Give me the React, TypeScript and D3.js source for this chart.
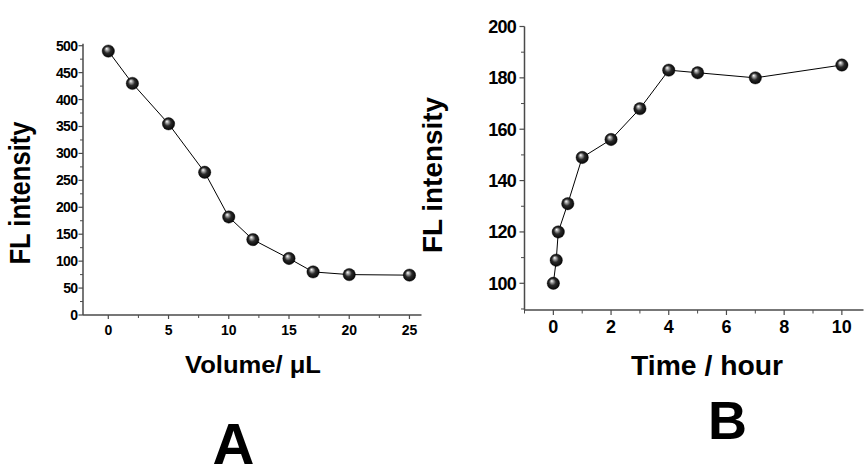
import { scaleLinear, line, range } from "d3";

const WIDTH = 865;
const HEIGHT = 468;
const FONT = "Arial, 'Liberation Sans', Helvetica, sans-serif";

// Panel A: fluorescence vs added volume
const volumeX = [0, 2, 5, 8, 10, 12, 15, 17, 20, 25];
const volumeFL = [490, 430, 355, 265, 182, 140, 105, 80, 75, 74];
const volumeXTicks = [0, 5, 10, 15, 20, 25];
const volumeYTicks = [0, 50, 100, 150, 200, 250, 300, 350, 400, 450, 500];

// Panel B: fluorescence vs time
const timeX = [0, 0.1, 0.17, 0.5, 1, 2, 3, 4, 5, 7, 10];
const timeFL = [100, 109, 120, 131, 149, 156, 168, 183, 182, 180, 185];
const timeXTicks = [0, 2, 4, 6, 8, 10];
const timeYTicks = [100, 120, 140, 160, 180, 200];

const AXIS = "#4a4a4a";

type Pt = [number, number];

function Sphere({ cx, cy }: { cx: number; cy: number }) {
  return <circle cx={cx} cy={cy} r={6.2} fill="url(#ball)" stroke="#000" strokeWidth={0.4} />;
}

export default function App() {
  // panel A scales
  const xA = scaleLinear().domain([-2.1, 26]).range([83, 421.5]);
  const yA = scaleLinear().domain([0, 500]).range([315, 45.7]);
  // panel B scales
  const xB = scaleLinear().domain([-1, 10.75]).range([524.5, 863.5]);
  const yB = scaleLinear().domain([89.6, 200]).range([310, 26.5]);

  const ptsA: Pt[] = volumeX.map((v, i) => [xA(v), yA(volumeFL[i])]);
  const ptsB: Pt[] = timeX.map((v, i) => [xB(v), yB(timeFL[i])]);
  const path = line<Pt>();

  const minorXA = range(2.5, 26, 5);
  const minorYA = range(25, 500, 50);
  const minorXB = range(-1, 11, 2);
  const minorYB = range(90, 200, 20);

  return (
    <svg
      width={WIDTH}
      height={HEIGHT}
      viewBox={`0 0 ${WIDTH} ${HEIGHT}`}
      style={{ position: "absolute", left: 0, top: 0, background: "#fff" }}
      fontFamily={FONT}
      fontWeight="bold"
    >
      <defs>
        <radialGradient id="ball" cx="0.5" cy="0.5" r="0.55" fx="0.36" fy="0.3">
          <stop offset="0" stopColor="#ffffff" />
          <stop offset="0.2" stopColor="#a8a8a8" />
          <stop offset="0.5" stopColor="#2a2a2a" />
          <stop offset="1" stopColor="#000" />
        </radialGradient>
      </defs>
      <rect width={WIDTH} height={HEIGHT} fill="#fff" />

      {/* ---------- Panel A ---------- */}
      <g>
        <line x1={xA.range()[0]} x2={xA.range()[1]} y1={yA(0)} y2={yA(0)} stroke={AXIS} strokeWidth={1.5} />
        <line x1={xA.range()[0]} x2={xA.range()[0]} y1={yA(0)} y2={yA(500) - 2} stroke={AXIS} strokeWidth={1.5} />
        {volumeXTicks.map((t) => (
          <g key={"xa" + t}>
            <line x1={xA(t)} x2={xA(t)} y1={yA(0)} y2={yA(0) + 4} stroke={AXIS} strokeWidth={1.2} />
            <text x={xA(t)} y={335} textAnchor="middle" fontSize={14}>{t}</text>
          </g>
        ))}
        {minorXA.map((t) => (
          <line key={"mxa" + t} x1={xA(t)} x2={xA(t)} y1={yA(0)} y2={yA(0) + 3} stroke={AXIS} strokeWidth={1} />
        ))}
        {volumeYTicks.map((t) => (
          <g key={"ya" + t}>
            <line x1={83} x2={78.5} y1={yA(t)} y2={yA(t)} stroke={AXIS} strokeWidth={1.2} />
            <text x={77.5} y={yA(t) + 5} textAnchor="end" fontSize={14} letterSpacing={-0.6}>{t}</text>
          </g>
        ))}
        {minorYA.map((t) => (
          <line key={"mya" + t} x1={83} x2={80} y1={yA(t)} y2={yA(t)} stroke={AXIS} strokeWidth={1} />
        ))}
        <path d={path(ptsA) ?? ""} fill="none" stroke="#000" strokeWidth={1} />
        {ptsA.map(([cx, cy], i) => (
          <Sphere key={"pa" + i} cx={cx} cy={cy} />
        ))}
        <text
          transform="translate(30,193) rotate(-90)"
          textAnchor="middle"
          fontSize={29}
          textLength={143}
          lengthAdjust="spacingAndGlyphs"
        >
          FL intensity
        </text>
        <text x={253} y={373} textAnchor="middle" fontSize={23} textLength={136} lengthAdjust="spacingAndGlyphs">
          Volume/ μL
        </text>
        <text x={233.5} y={464} textAnchor="middle" fontSize={58}>A</text>
      </g>

      {/* ---------- Panel B ---------- */}
      <g>
        <line x1={xB.range()[0]} x2={xB.range()[1]} y1={310} y2={310} stroke={AXIS} strokeWidth={1.5} />
        <line x1={524.5} x2={524.5} y1={310} y2={yB(200)} stroke={AXIS} strokeWidth={1.5} />
        {timeXTicks.map((t) => (
          <g key={"xb" + t}>
            <line x1={xB(t)} x2={xB(t)} y1={310} y2={315} stroke={AXIS} strokeWidth={1.2} />
            <text x={xB(t)} y={333} textAnchor="middle" fontSize={18}>{t}</text>
          </g>
        ))}
        {minorXB.map((t) => (
          <line key={"mxb" + t} x1={xB(t)} x2={xB(t)} y1={310} y2={313.5} stroke={AXIS} strokeWidth={1} />
        ))}
        {timeYTicks.map((t) => (
          <g key={"yb" + t}>
            <line x1={524.5} x2={519.5} y1={yB(t)} y2={yB(t)} stroke={AXIS} strokeWidth={1.2} />
            <text x={516} y={yB(t) + 6.5} textAnchor="end" fontSize={18} letterSpacing={-0.8}>{t}</text>
          </g>
        ))}
        {minorYB.map((t) => (
          <line key={"myb" + t} x1={524.5} x2={521} y1={yB(t)} y2={yB(t)} stroke={AXIS} strokeWidth={1} />
        ))}
        <path d={path(ptsB) ?? ""} fill="none" stroke="#000" strokeWidth={1} />
        {ptsB.map(([cx, cy], i) => (
          <Sphere key={"pb" + i} cx={cx} cy={cy} />
        ))}
        <text
          transform="translate(442,175) rotate(-90)"
          textAnchor="middle"
          fontSize={27}
          textLength={156}
          lengthAdjust="spacingAndGlyphs"
        >
          FL intensity
        </text>
        <text x={707} y={375} textAnchor="middle" fontSize={28} textLength={152} lengthAdjust="spacingAndGlyphs">
          Time / hour
        </text>
        <text x={727.5} y={439} textAnchor="middle" fontSize={54}>B</text>
      </g>
    </svg>
  );
}
